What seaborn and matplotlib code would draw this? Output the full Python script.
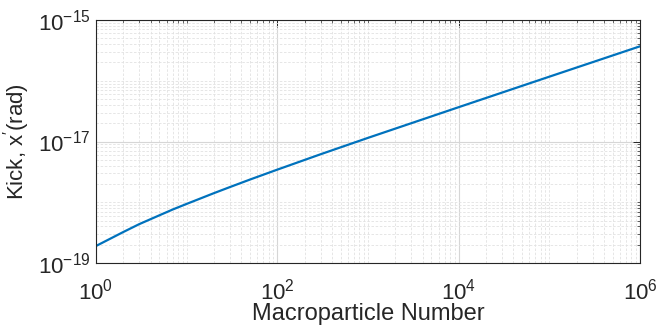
import numpy as np
import pandas as pd
import matplotlib
matplotlib.use("Agg")
import matplotlib.pyplot as plt
import matplotlib.ticker as mticker
import seaborn as sns

# Data (log10 of the kick)
macroparticles = [1, 2, 3, 5, 7, 10, 20, 30, 50, 100, 300, 1000, 1e4, 1e5, 1e6]
log_kick = [-18.72, -18.49, -18.36, -18.215, -18.12, -18.027, -17.85, -17.75,
            -17.626, -17.463, -17.21, -16.94, -16.435, -15.933, -15.433]
kick = [10 ** v for v in log_kick]

x_ticks = [1, 1e2, 1e4, 1e6]
y_ticks = [1e-19, 1e-17, 1e-15]

sns.set_style("white")
plt.rcParams['font.family'] = ['Liberation Sans', 'DejaVu Sans']
plt.rcParams['mathtext.fontset'] = 'custom'
plt.rcParams['mathtext.rm'] = 'Liberation Sans'
plt.rcParams['mathtext.it'] = 'Liberation Sans:italic'
plt.rcParams['mathtext.bf'] = 'Liberation Sans:bold'
plt.rcParams['axes.unicode_minus'] = False

df = pd.DataFrame({"N": macroparticles, "kick": kick})

fig = plt.figure(figsize=(6.71, 3.33), dpi=100)
ax = fig.add_axes([96 / 671, 70 / 333, 544 / 671, 243 / 333])
ax.set_xscale("log")
ax.set_yscale("log")
sns.lineplot(data=df, x="N", y="kick", ax=ax, color="#0072BD", linewidth=1.6)

ax.set_xlim(1, 1e6)
ax.set_ylim(1e-19, 1e-15)
ax.set_xticks(x_ticks)
ax.set_yticks(y_ticks)
ax.xaxis.set_minor_locator(mticker.LogLocator(base=10, subs=np.arange(1, 10), numticks=50))
ax.yaxis.set_minor_locator(mticker.LogLocator(base=10, subs=np.arange(1, 10), numticks=50))
ax.xaxis.set_minor_formatter(mticker.NullFormatter())
ax.yaxis.set_minor_formatter(mticker.NullFormatter())
ax.xaxis.set_major_formatter(mticker.LogFormatterSciNotation())
ax.yaxis.set_major_formatter(mticker.LogFormatterSciNotation())

ax.grid(True, which="major", color="#d6d6d6", linewidth=0.8, linestyle="-")
ax.grid(True, which="minor", color="#e2e2e2", linewidth=0.6, linestyle=(0, (3, 2)))
ax.set_axisbelow(True)

for s in ax.spines.values():
    s.set_visible(True)
    s.set_color("#262626")
    s.set_linewidth(0.8)

ax.tick_params(which="both", direction="in", top=True, right=True, colors="#262626",
               labelsize=16)
ax.tick_params(which="major", length=5, width=0.7)
ax.tick_params(which="minor", length=2.5, width=0.5)
ax.tick_params(axis="x", which="major", pad=11)
ax.tick_params(axis="y", which="major", pad=4)

ax.set_xlabel("Macroparticle Number", fontsize=17, color="#262626", labelpad=-1)
ax.set_ylabel("Kick, x$^{\\prime}$(rad)", fontsize=16, color="#262626", labelpad=4)

fig.savefig("out.png", dpi=100)
